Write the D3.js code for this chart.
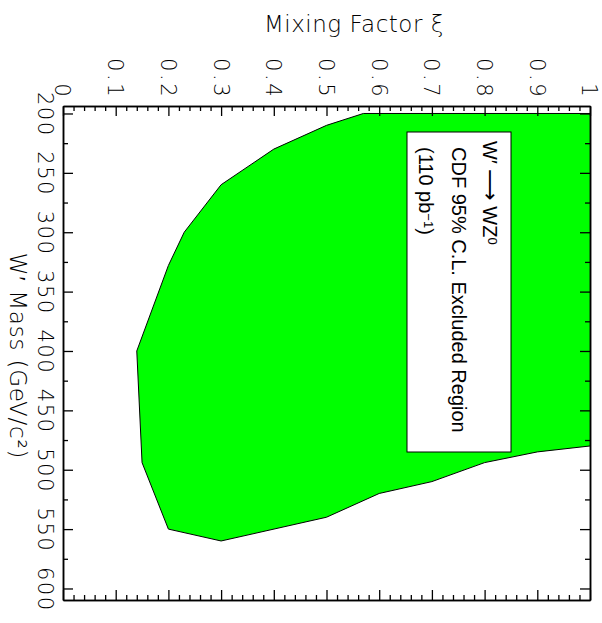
<!DOCTYPE html>
<html><head><meta charset="utf-8">
<script src="https://cdn.jsdelivr.net/npm/d3@7"></script>
<style>
body{margin:0;background:#fff;}
.ax path{stroke:#000;stroke-width:1.5;}
.ax line{stroke:#000;stroke-width:1.3;}
.lab{font-family:"DejaVu Sans";font-weight:200;font-size:21px;fill:#000;}
.leg{font-family:"Liberation Sans",Arial,sans-serif;font-size:20px;fill:#000;}
</style></head>
<body>
<svg id="c" width="602" height="623"></svg>
<script>
// ---- data ----
const massTicks = [200, 250, 300, 350, 400, 450, 500, 550, 600];
const massMinor = [225, 275, 325, 375, 425, 475, 525, 575];
const xiTicks = [0, 0.1, 0.2, 0.3, 0.4, 0.5, 0.6, 0.7, 0.8, 0.9, 1];
const xiLabels = ["0", "0.1", "0.2", "0.3", "0.4", "0.5", "0.6", "0.7", "0.8", "0.9", "1"];
// excluded-region boundary (mixing factor, W' mass)
const boundaryXi   = [1.0, 0.57, 0.50, 0.40, 0.30, 0.23, 0.20, 0.14, 0.15, 0.20, 0.30, 0.50, 0.60, 0.70, 0.80, 0.90, 1.0];
const boundaryMass = [200, 200, 210, 230, 260, 300, 328, 400, 494, 550, 560, 540, 520, 510, 494, 485, 480];
// legend lines as [text, superscript] pieces
const legendLines = [
  [["W\u2032 ", null], ["\u27F6", null], [" WZ", null], ["0", "sup"]],
  [["CDF 95% C.L. Excluded Region", null]],
  [["(110 pb", null], ["\u22121", "sup"], [")", null]]
];

const L = 63, R = 590, T = 106, B = 600;
const svg = d3.select("#c");
const x = d3.scaleLinear().domain([0, 1]).range([L, R]);
const y = d3.scaleLinear().domain([193.7, 609.7]).range([T, B]);

// region
const pts = boundaryXi.map((v, i) => [x(v), y(boundaryMass[i])]);
svg.append("path")
  .attr("d", d3.line()(pts.concat([[x(1), y(200)]])) + "Z")
  .attr("fill", "#00ff00").attr("stroke", "none");
svg.append("path")
  .attr("d", d3.line()(pts))
  .attr("fill", "none").attr("stroke", "#000").attr("stroke-width", 1);

// legend
const lg = svg.append("g");
lg.append("rect").attr("x", 407).attr("y", 132).attr("width", 104).attr("height", 320)
  .attr("fill", "#fff").attr("stroke", "#000").attr("stroke-width", 1);
const legPos = [[483, 141], [452, 147], [419, 147]];
legendLines.forEach((pieces, i) => {
  const t = lg.append("text").attr("class", "leg")
    .attr("transform", `translate(${legPos[i][0]},${legPos[i][1]}) rotate(90)`);
  pieces.forEach(([s, kind]) => {
    const ts = t.append("tspan").text(s);
    if (kind === "sup") ts.attr("baseline-shift", "40%").style("font-size", "13px");
    if (s === "\u27F6") ts.style("font-family", "DejaVu Sans").style("font-size", "22px");
  });
});

// axes: ticks
const xiMinor = d3.range(0, 1.0001, 0.02).filter(v => Math.abs(v * 10 - Math.round(v * 10)) > 1e-6);
function addAxis(axis, tr) {
  const g = svg.append("g").attr("class", "ax").attr("transform", tr).call(axis);
  g.selectAll("text").remove();
  return g;
}
addAxis(d3.axisLeft(y).tickValues(massTicks).tickSize(-10).tickSizeOuter(0), `translate(${L},0)`);
addAxis(d3.axisLeft(y).tickValues(massMinor).tickSize(-5).tickSizeOuter(0), `translate(${L},0)`);
addAxis(d3.axisRight(y).tickValues(massTicks).tickSize(-10).tickSizeOuter(0), `translate(${R},0)`);
addAxis(d3.axisRight(y).tickValues(massMinor).tickSize(-5).tickSizeOuter(0), `translate(${R},0)`);
addAxis(d3.axisTop(x).tickValues(xiTicks).tickSize(-10).tickSizeOuter(0), `translate(0,${T})`);
addAxis(d3.axisTop(x).tickValues(xiMinor).tickSize(-5).tickSizeOuter(0), `translate(0,${T})`);
addAxis(d3.axisBottom(x).tickValues(xiTicks).tickSize(-10).tickSizeOuter(0), `translate(0,${B})`);
addAxis(d3.axisBottom(x).tickValues(xiMinor).tickSize(-5).tickSizeOuter(0), `translate(0,${B})`);

// tick labels (rotated)
massTicks.forEach(m => {
  svg.append("text").attr("class", "lab").style("letter-spacing", "1.5px")
    .attr("transform", `translate(38,${y(m) + 0.75}) rotate(90)`)
    .attr("text-anchor", "middle").text(m);
});
xiTicks.forEach((v, i) => {
  svg.append("text").attr("class", "lab").style("letter-spacing", "2.5px")
    .attr("transform", `translate(${x(v)},99) rotate(90)`)
    .attr("text-anchor", "end").attr("dy", "0.36em").text(xiLabels[i]);
});

// titles
svg.append("text").attr("class", "lab").style("font-size", "23px").style("letter-spacing", "0.5px")
  .attr("x", 354).attr("y", 32).attr("text-anchor", "middle").text("Mixing Factor \u03BE");
svg.append("text").attr("class", "lab").style("font-size", "23px").style("letter-spacing", "0.8px")
  .attr("transform", `translate(10,356) rotate(90)`)
  .attr("text-anchor", "middle").text("W\u2032 Mass (GeV/c\u00B2)");
</script>
</body></html>
